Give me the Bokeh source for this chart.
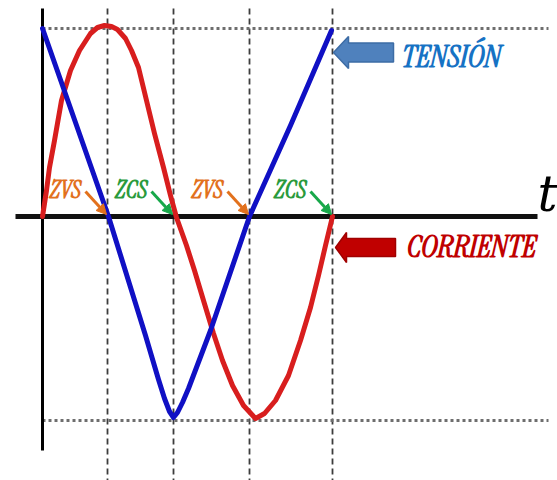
from bokeh.plotting import figure
from bokeh.models import Range1d, Arrow, NormalHead
from bokeh.core.properties import value
from bokeh.embed import file_html
from bokeh.resources import INLINE

# ---------------- data ----------------
# time in drawing units from the origin, value in drawing units (up = positive)
tension_t = [0, 66, 103, 116, 122, 127, 131, 135, 140, 146, 168, 207, 248, 289]
tension_v = [188, 0, -119, -163, -182, -195, -201, -196, -186, -172, -114, 0, 91, 186]

current_t = [0, 4, 7, 12, 19, 28, 37, 48, 55, 62, 69, 75, 83, 89, 96, 104, 112, 121, 128,
             134, 144, 152, 161, 171, 180, 190, 201, 213, 222, 233, 246, 258, 268,
             276, 283, 290]
current_i = [0, 26, 49, 76, 116, 146, 166, 183, 189, 191, 190, 187, 178, 166, 149, 116, 83, 49,
             21, -1, -29, -54, -84, -117, -144, -169, -189, -202, -197, -184, -159,
             -124, -91, -59, -29, 0]

crossing_t = [65, 131, 207, 290]
crossing_kind = ["ZVS", "ZCS", "ZVS", "ZCS"]
peak_levels = [188, -204]
t_axis_end = 506

series_names = ["TENSIÓN", "CORRIENTE"]
axis_label = "t"

# ---------------- styling ----------------
BLUE = "#1010c4"
RED = "#d81e1e"
ORANGE = "#e2711d"
GREEN = "#2a9a3c"
GREEN_ARROW = "#18a84a"
COND = "Instrument Serif, Fira Sans Extra Condensed, Archivo Narrow, Liberation Serif"

p = figure(width=557, height=480,
           x_range=Range1d(-42, 515), y_range=Range1d(-264, 216),
           output_backend="svg", toolbar_location=None,
           x_axis_location=None, y_axis_location=None, min_border=0)
p.grid.visible = False
p.outline_line_color = None
p.background_fill_color = "white"
p.border_fill_color = "white"

# dashed vertical guides at the zero crossings
for t in crossing_t:
    p.line([t, t], [208, -264], line_color="#3c3c3c", line_width=1.8, line_dash="6 4")

# dotted amplitude levels
for lv in peak_levels:
    p.line([0, t_axis_end], [lv, lv], line_color="#6e6e6e", line_width=3, line_dash="3 3")

# axes
p.line([0, 0], [208, -234], line_color="black", line_width=3)
p.line([-27, 495], [0, 0], line_color="#111111", line_width=5)

# curves
p.line(current_t, current_i, line_color=RED, line_width=5, line_join="round", line_cap="round")
p.line(tension_t, tension_v, line_color=BLUE, line_width=5, line_join="round", line_cap="round")

# t label
p.text(x=[505], y=[23], text=[axis_label], text_font=value("DejaVu Serif"),
       text_font_size="50px", text_font_style="italic", text_color="black",
       text_align="center", text_baseline="alphabetic")


def block_arrow(tip_x, tip_y, head_len, head_half, body_half, total, fill, line):
    xs = [tip_x, tip_x + head_len, tip_x + head_len, tip_x + total,
          tip_x + total, tip_x + head_len, tip_x + head_len]
    ys = [tip_y, tip_y + head_half, tip_y + body_half, tip_y + body_half,
          tip_y - body_half, tip_y - body_half, tip_y - head_half]
    p.patch(xs, ys, fill_color=fill, line_color=line, line_width=1.5)


block_arrow(291, 164, 15, 16, 9.5, 60, "#4f81bd", "#3d6ca5")
block_arrow(293, -31, 11, 15, 9, 60, "#c00000", "#a00000")

p.text(x=[409], y=[160], text=[series_names[0]], text_font=value(COND),
       text_font_size="31px", text_font_style="bold italic", text_color="#1672c4",
       text_align="center", text_baseline="alphabetic")
p.text(x=[429], y=[-30], text=[series_names[1]], text_font=value(COND),
       text_font_size="31px", text_font_style="bold italic", text_color="#c00000",
       text_align="center", text_baseline="alphabetic")

# ZVS / ZCS labels with arrows to the crossings
for t, kind in zip(crossing_t, crossing_kind):
    tc = ORANGE if kind == "ZVS" else GREEN
    ac = ORANGE if kind == "ZVS" else GREEN_ARROW
    p.text(x=[t - 42], y=[27], text=[kind], text_font=value(COND),
           text_font_size="24px", text_font_style="bold italic", text_color=tc,
           text_align="center", text_baseline="alphabetic")
    p.add_layout(Arrow(end=NormalHead(size=10, fill_color=ac, line_color=ac),
                       x_start=t - 22, y_start=25, x_end=t - 1, y_end=2,
                       line_color=ac, line_width=3))

open("out.html", "w").write(file_html(p, INLINE))
